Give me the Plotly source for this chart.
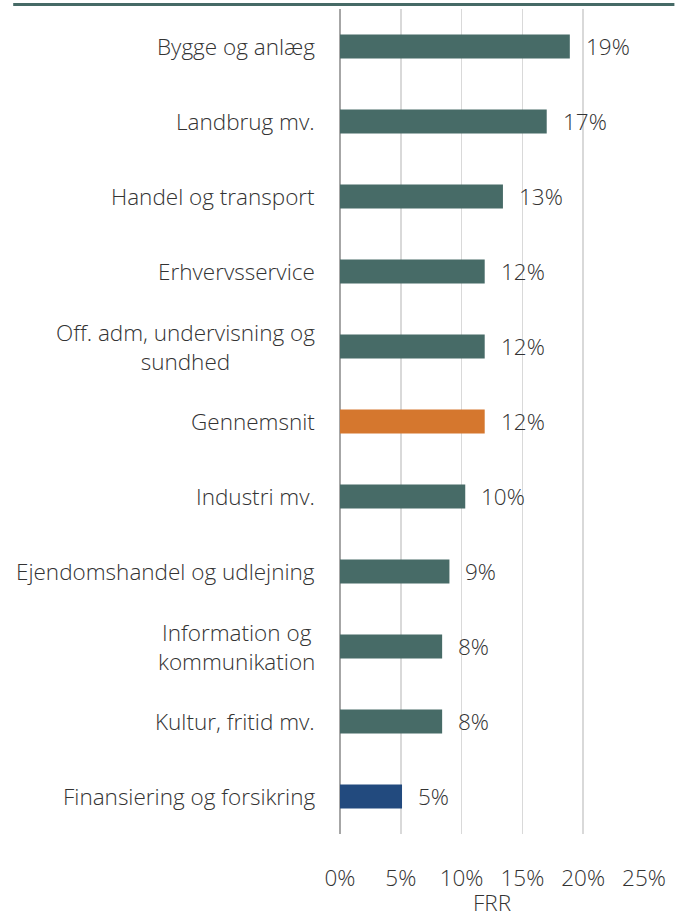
import plotly.graph_objects as go

categories = [
    "Bygge og anlæg",
    "Landbrug mv.",
    "Handel og transport",
    "Erhvervsservice",
    "Off. adm, undervisning og<br>sundhed",
    "Gennemsnit",
    "Industri mv.",
    "Ejendomshandel og udlejning",
    "Information og<br>kommunikation",
    "Kultur, fritid mv.",
    "Finansiering og forsikring",
]
values = [0.189, 0.170, 0.134, 0.119, 0.119, 0.119, 0.103, 0.090, 0.084, 0.084, 0.051]
bar_colors = ["#476b67"] * 5 + ["#d5772e"] + ["#476b67"] * 4 + ["#224a7e"]
tick_vals = [0, 0.05, 0.10, 0.15, 0.20, 0.25]
tick_text = ["0%", "5%", "10%", "15%", "20%", "25%"]
axis_title = "FRR"

FONT = "Open Sans"
TXT = "#333333"
FS = 22.5

fig = go.Figure()
fig.add_trace(go.Bar(
    x=values,
    y=categories,
    orientation="h",
    marker=dict(color=bar_colors, line=dict(width=0)),
    hoverinfo="skip",
))

# value labels
for c, v in zip(categories, values):
    fig.add_annotation(
        x=v, y=c, xref="x", yref="y",
        text=f"{round(v*100):.0f}%",
        showarrow=False, xanchor="left", xshift=14,
        font=dict(family=FONT, size=FS, color=TXT, weight=300),
    )

# category labels (centered multi-line, right anchored)
for c in categories:
    fig.add_annotation(
        x=0, y=c, xref="paper", yref="y",
        text=c, showarrow=False, xanchor="right", xshift=-23,
        align="center",
        font=dict(family=FONT, size=FS, color=TXT, weight=300),
    )

# top rule
fig.add_shape(type="line", xref="paper", yref="paper",
              x0=-1.075, x1=1.1, y0=1.0055, y1=1.0055,
              line=dict(color="#466a66", width=3))

fig.update_layout(
    width=675, height=918,
    margin=dict(l=340, r=28, t=9, b=84),
    paper_bgcolor="white", plot_bgcolor="white",
    showlegend=False,
    bargap=0.68,
    font=dict(family=FONT, color=TXT),
    xaxis=dict(
        range=[0, 0.25],
        tickvals=tick_vals, ticktext=tick_text,
        showgrid=True, gridcolor="#d9d9d9", gridwidth=1.5,
        zeroline=True, zerolinecolor="#a6a6a6", zerolinewidth=1.5,
        ticks="", ticklabelstandoff=28,
        tickfont=dict(family=FONT, size=FS, color=TXT, weight=300),
        title=dict(text=axis_title, standoff=0,
                   font=dict(family=FONT, size=FS, color=TXT, weight=300)),
        fixedrange=True,
    ),
    yaxis=dict(
        categoryorder="array", categoryarray=categories,
        autorange="reversed",
        showticklabels=False, showgrid=False, zeroline=False,
        ticks="", fixedrange=True,
    ),
)

fig.write_html(
    "out.html",
    config={"displayModeBar": False, "staticPlot": True},
    post_script="document.body.style.margin='0';document.body.style.overflow='hidden';",
)
